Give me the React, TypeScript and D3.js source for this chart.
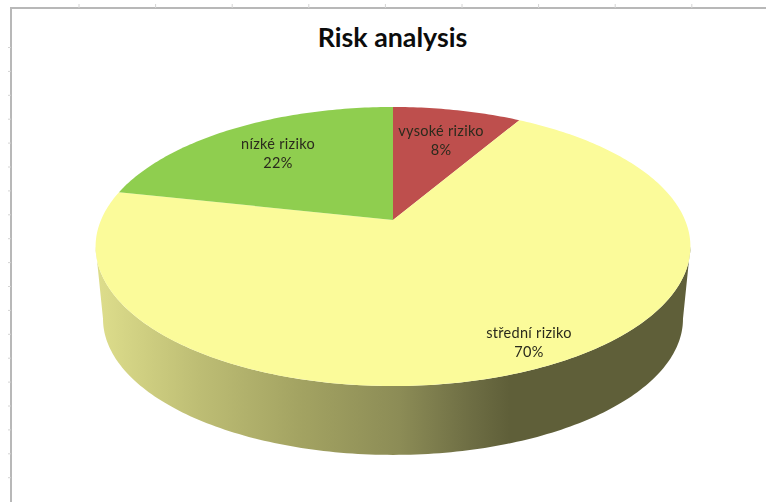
import React from "react";
import * as d3 from "d3";

const title = "Risk analysis";
const categories = ["vysoké riziko", "střední riziko", "nízké riziko"];
const values = [8.4, 70.05, 21.55];
const colors = ["#BE4F4D", "#FBFB9A", "#8FCE4F"];

const W = 766;
const H = 502;
const apex = { x: 393, y: 220 };
const A = 292;
const B = 134.5;
const P = -0.19;
const DEPTH = 73;
const SCALE = 0.975;
const labelAt = [
  { x: 441, y: 136 },
  { x: 529, y: 338 },
  { x: 278, y: 149 },
];

const project = (a: number, s = 1, dy = 0): [number, number] => {
  const u = Math.sin(a);
  const v = -Math.cos(a);
  const d = 1 + P * v;
  return [apex.x + (s * A * u) / d, apex.y + dy + (s * B * v) / d];
};
const samples = (a0: number, a1: number) => {
  const n = Math.max(2, Math.ceil(Math.abs(a1 - a0) * 60));
  return d3.range(n + 1).map((i) => a0 + ((a1 - a0) * i) / n);
};

const pieGen = d3.pie<number>().sort(null).startAngle(0).endAngle(2 * Math.PI);
const line = d3.line<[number, number]>();
const pct = d3.format(".0f");
const total = d3.sum(values);

const sideGradient: [number, string][] = [
  [96, "#DEDE8C"],
  [200, "#BDBD74"],
  [300, "#A3A362"],
  [400, "#8C8C56"],
  [470, "#6E6E44"],
  [510, "#5F5F39"],
  [691, "#5F5F39"],
];

const topTicks = d3.range(9).map((i) => 79 + i * 76.6);
const leftTicks = d3.range(19).map((i) => 47.5 + i * 23.9);

export default function App() {
  const arcs = pieGen(values);
  const rightA = Math.PI / 2 + 0.19;
  const leftA = (3 * Math.PI) / 2 - 0.19;
  const front = samples(rightA, leftA);
  const sidePts: [number, number][] = [
    ...front.map((a) => project(a)),
    ...front.slice().reverse().map((a) => project(a, SCALE, DEPTH)),
  ];
  const gx = d3.scaleLinear().domain([96, 691]).range([0, 1]);
  return (
    <svg
      width={W}
      height={H}
      style={{ position: "absolute", left: 0, top: 0, background: "#fff" }}
      fontFamily="Lato, 'Open Sans', sans-serif"
    >
      <defs>
        <linearGradient id="side" gradientUnits="objectBoundingBox" x1="0" x2="1" y1="0" y2="0">
          {sideGradient.map(([x, c]) => (
            <stop key={x} offset={gx(x)} stopColor={c} />
          ))}
        </linearGradient>
        <filter id="soft" x="-5%" y="-5%" width="110%" height="110%">
          <feGaussianBlur stdDeviation="0.45" />
        </filter>
      </defs>
      <g stroke="#b8b8b8" fill="none">
        <path d={`M11,${H}V8H${W}`} strokeWidth={2} />
        <g stroke="#d4d4d4">
          {topTicks.map((x) => (
            <line key={x} x1={x} x2={x} y1={4} y2={8} />
          ))}
          {leftTicks.map((y) => (
            <line key={y} x1={8} x2={11} y1={y} y2={y} />
          ))}
        </g>
      </g>
      <path d={line(sidePts)! + "Z"} fill="url(#side)" />
      {arcs.map((d, i) => {
        const pts: [number, number][] = [
          [apex.x, apex.y],
          ...samples(d.startAngle, d.endAngle).map((a) => project(a)),
        ];
        return <path key={categories[i]} d={line(pts)! + "Z"} fill={colors[i]} />;
      })}
      <text
        x={392.5}
        y={47}
        textAnchor="middle"
        fontSize={26.8}
        fontWeight={700}
        fill="#0c0c0c"
      >
        {title}
      </text>
      <g filter="url(#soft)" fontSize={14.5} letterSpacing={0.3} fill="#2a2a1c" textAnchor="middle">
        {categories.map((c, i) => (
          <text key={c} x={labelAt[i].x} y={labelAt[i].y}>
            <tspan x={labelAt[i].x}>{c}</tspan>
            <tspan x={labelAt[i].x} dy={18.8}>
              {pct((values[i] / total) * 100)}%
            </tspan>
          </text>
        ))}
      </g>
    </svg>
  );
}
